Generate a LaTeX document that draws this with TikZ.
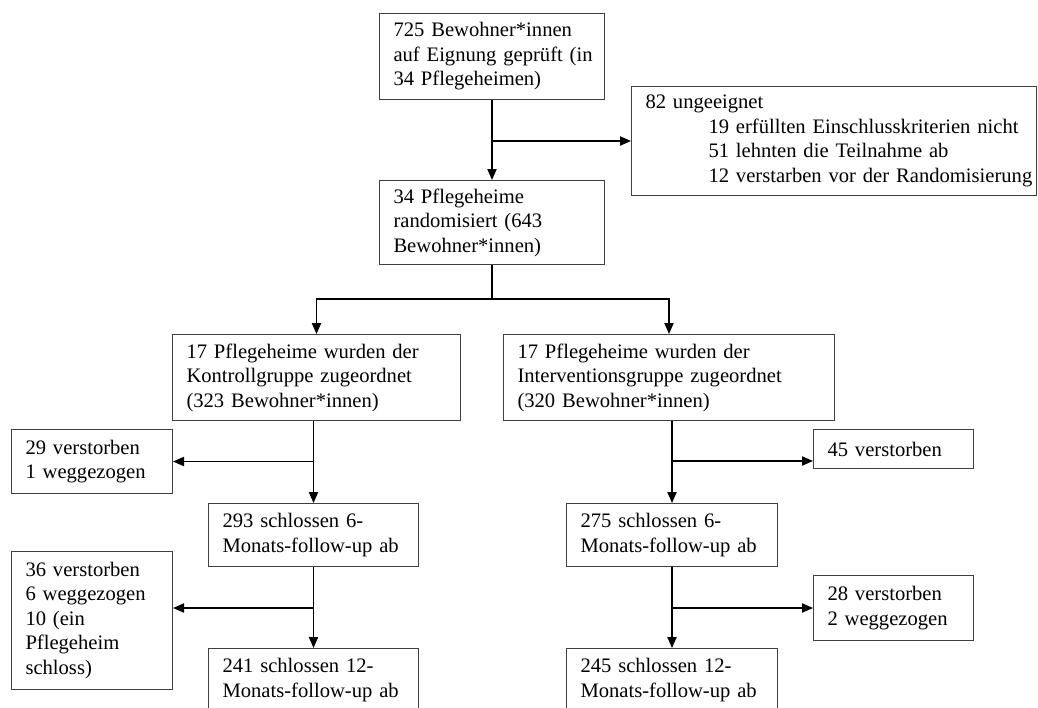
\documentclass[tikz,border=0pt]{standalone}
\usepackage{fontspec}
\setmainfont{Liberation Serif}
\usetikzlibrary{arrows.meta,positioning}
\tikzset{
myBox/.style={
	rectangle,draw=black!75,line width=0.5pt,
	anchor=north west,align=left,
	inner xsep=7pt,inner ysep=0pt,
	font=\fontsize{10.3}{12.25}\selectfont
}
% link
, myLink/.style={-{Triangle[length=5.5pt,width=4.6pt]},line width=0.7pt}
, myLine/.style={line width=0.7pt}
}

\begin{document}
\begin{tikzpicture}[x=0.5pt,y=-0.5pt]
	\clip (0,0) rectangle (1038,707);
	% nodes
	\node[myBox,text width=98.5pt,minimum height=43pt] (Screen) at (379,13)
		{725 Bewohner*innen\\\mbox{auf Eignung geprüft (in}\\34 Pflegeheimen)};
	\node[myBox,text width=188.5pt,minimum height=54.5pt] (Excl) at (631,86)
		{82 ungeeignet\\
		\mbox{\hspace*{31.5pt}19 erfüllten Einschlusskriterien nicht}\\
		\mbox{\hspace*{31.5pt}51 lehnten die Teilnahme ab}\\
		\mbox{\hspace*{31.5pt}12 verstarben vor der Randomisierung}};
	\node[myBox,text width=98.5pt,minimum height=42pt] (Rand) at (379,180)
		{34 Pflegeheime\\randomisiert (643\\Bewohner*innen)};
	% groups
	\node[myBox,text width=130pt,minimum height=43pt] (KG) at (172,334)
		{17 Pflegeheime wurden der\\Kontrollgruppe zugeordnet\\(323 Bewohner*innen)};
	\node[myBox,text width=151.5pt,minimum height=43pt] (IG) at (503,334)
		{17 Pflegeheime wurden der\\\mbox{Interventionsgruppe zugeordnet}\\(320 Bewohner*innen)};
	% losses
	\node[myBox,text width=66.5pt,minimum height=32pt] (KGLoss1) at (11,429)
		{29 verstorben\\1 weggezogen};
	\node[myBox,text width=66pt,minimum height=19.5pt] (IGLoss1) at (813,429)
		{45 verstorben};
	\node[myBox,text width=66.5pt,minimum height=69pt] (KGLoss2) at (11,551)
		{36 verstorben\\6 weggezogen\\10 (ein\\Pflegeheim\\schloss)};
	\node[myBox,text width=66pt,minimum height=32.5pt] (IGLoss2) at (813,575)
		{28 verstorben\\2 weggezogen};
	% follow-up
	\node[myBox,text width=91pt,minimum height=31.5pt] (KG6) at (208,503)
		{293 schlossen 6-\\\mbox{Monats-follow-up ab}};
	\node[myBox,text width=91.5pt,minimum height=31.5pt] (IG6) at (566,503)
		{275 schlossen 6-\\\mbox{Monats-follow-up ab}};
	\node[myBox,text width=91pt,minimum height=31.5pt] (KG12) at (208,648)
		{241 schlossen 12-\\\mbox{Monats-follow-up ab}};
	\node[myBox,text width=91.5pt,minimum height=31.5pt] (IG12) at (566,648)
		{245 schlossen 12-\\\mbox{Monats-follow-up ab}};

	% links
	\draw[myLink] (Screen.south) -- (Rand.north);
	\coordinate (ExclSplit) at (Screen.south |- Excl.west);
	\draw[myLink] (ExclSplit) -- (Excl.west);

	\coordinate (RandSplit) at ([yshift=-17pt]Rand.south);
	\draw[myLine] (Rand.south) -- (RandSplit);
	\draw[myLink] (RandSplit) -| (KG.north);
	\draw[myLink] (RandSplit) -| (IG.north);

	% Kontrollgruppe
	\draw[myLink] (KG6.north |- KG.south) -- (KG6.north);
	\coordinate (KGSplit1) at (KG6.north |- KGLoss1.east);
	\draw[myLink] (KGSplit1) -- (KGLoss1.east);
	\draw[myLink] (KG6.south) -- (KG12.north);
	\coordinate (KGSplit2) at ([yshift=-20.5pt]KG6.south);
	\draw[myLink] (KGSplit2) -- (KGSplit2 -| KGLoss2.east);

	% Interventionsgruppe
	\draw[myLink] (IG6.north |- IG.south) -- (IG6.north);
	\coordinate (IGSplit1) at ([yshift=-20pt]IG6.north |- IG.south);
	\draw[myLink] (IGSplit1) -- (IGSplit1 -| IGLoss1.west);
	\draw[myLink] (IG6.south) -- (IG12.north);
	\coordinate (IGSplit2) at (IG6.south |- IGLoss2.west);
	\draw[myLink] (IGSplit2) -- (IGLoss2.west);
\end{tikzpicture}
\end{document}
